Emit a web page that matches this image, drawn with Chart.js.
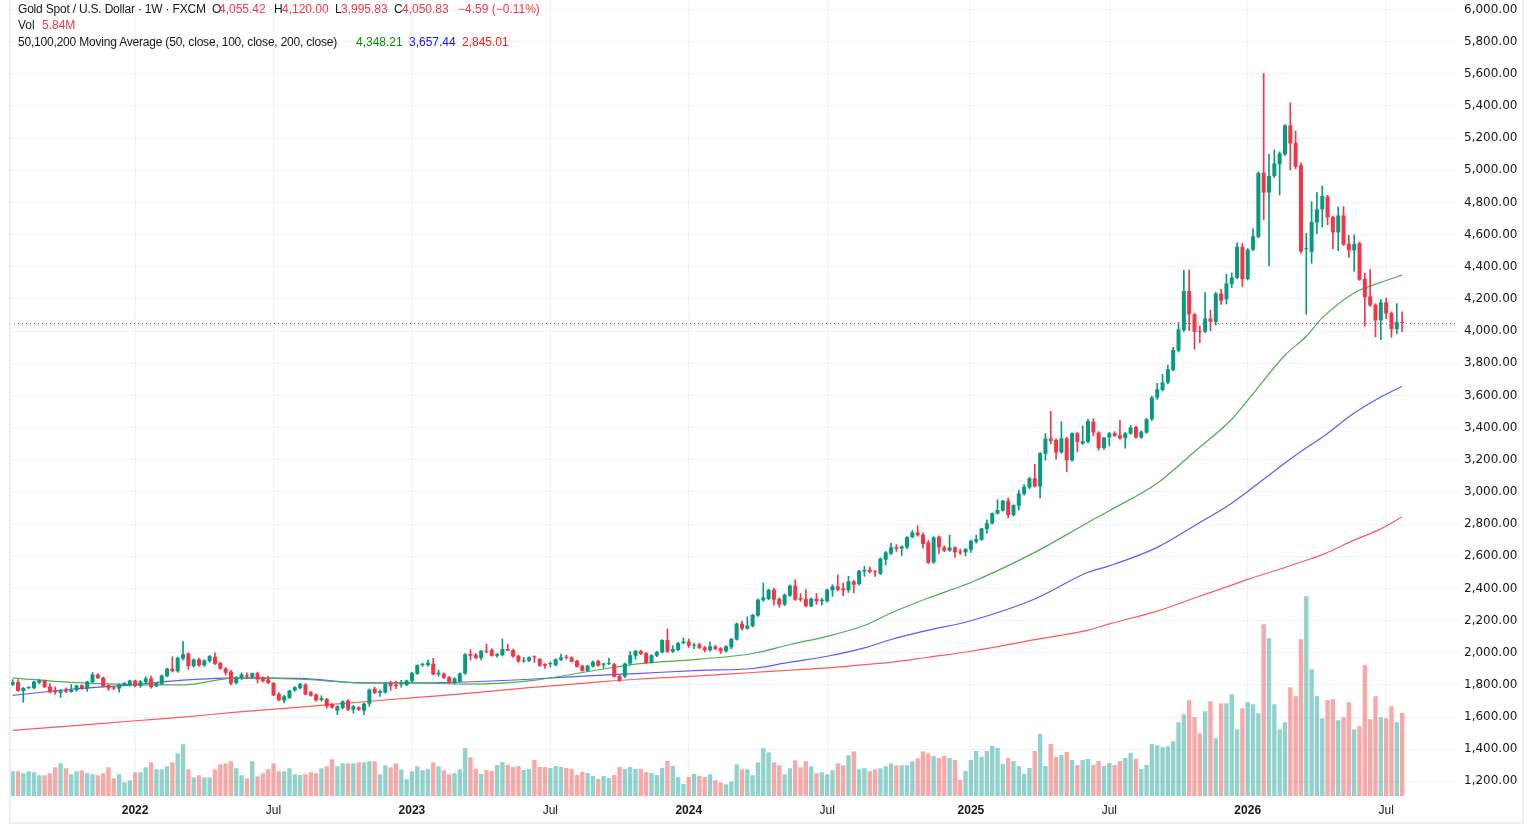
<!DOCTYPE html>
<html>
<head>
<meta charset="utf-8">
<title>Gold Spot / U.S. Dollar 1W</title>
<script src="https://cdn.jsdelivr.net/npm/chart.js@4.4.1/dist/chart.umd.min.js"></script>
<style>
  html, body { margin: 0; padding: 0; background: #fff; }
  #wrap { position: relative; width: 1534px; height: 834px; overflow: hidden; }
  #frame { position: absolute; left: 9px; top: -4px; width: 1515px; height: 828px; box-sizing: border-box;
           border: 2px solid #eceef2; border-top: none; pointer-events: none; }
  .lg { position: absolute; font: 12px "Liberation Sans", Arial, sans-serif; color: #131722; white-space: nowrap; line-height: 16px; }
  .tight { letter-spacing: -0.2px; }
  .dn { color: #f23645; }
</style>
</head>
<body>
<div id="wrap">
  <canvas id="chart" width="1534" height="834"></canvas>
  <div id="frame"></div>
  <div id="legend"></div>
</div>
<script>
// first weekly bar (Monday) and empty weeks kept on the right
const startWeek = Date.UTC(2021, 6, 26);
const futureWeeks = 10;

// weekly candles
const opens = [
  1800,1817,1762,1781,1779,1813,1829,1790,1765,1750,
  1770,1756,1767,1798,1775,1817,1865,1844,1798,1785,
  1777,1802,1796,1827,1792,1817,1840,1792,1806,1854,
  1900,1885,1963,1994,1917,1958,1921,1948,1975,1937,
  1902,1883,1812,1846,1860,1846,1873,1846,1835,1812,
  1744,1702,1719,1765,1779,1802,1754,1740,1706,1712,
  1681,1640,1656,1702,1646,1660,1640,1683,1775,1750,
  1752,1812,1802,1802,1798,1823,1869,1923,1923,1931,
  1865,1869,1848,1812,1822,1871,1992,1988,1967,2012,
  2017,1981,1985,2023,2017,1981,1946,1950,1977,1960,
  1929,1929,1923,1956,1975,1971,1950,1919,1887,1915,
  1950,1925,1929,1929,1856,1852,1933,1981,2010,1998,
  1940,1981,2002,2079,2006,2017,2060,2069,2044,2051,
  2034,2015,2040,2028,2009,2034,2082,2181,2150,2164,
  2231,2326,2334,2392,2336,2299,2355,2417,2340,2334,
  2289,2336,2320,2320,2388,2413,2400,2388,2444,2427,
  2506,2516,2506,2491,2579,2616,2655,2648,2655,2719,
  2748,2734,2686,2562,2721,2655,2634,2655,2630,2624,
  2640,2690,2702,2769,2804,2866,2883,2945,2856,2914,
  2986,3027,3085,3034,3237,3332,3323,3245,3332,3197,
  3365,3300,3311,3437,3369,3272,3338,3365,3352,3334,
  3363,3404,3338,3369,3452,3586,3634,3679,3758,3878,
  4006,4249,4104,4000,3996,4079,4058,4234,4197,4292,
  4331,4524,4323,4507,4586,4985,4861,4964,5037,5099,
  5279,5171,5031,4509,4493,4675,4757,4837,4709,4614,
  4719,4543,4502,4547,4326,4216,4164,4067,4179,4113,4013,4055.42
];
const highs = [
  1833,1833,1784,1790,1824,1834,1831,1808,1787,1771,
  1781,1802,1798,1800,1823,1877,1868,1848,1802,1790,
  1806,1815,1830,1830,1827,1850,1855,1815,1862,1904,
  1975,1972,2069,2000,1962,1966,1956,1983,2000,1942,
  1908,1890,1852,1875,1875,1873,1879,1850,1854,1815,
  1752,1735,1768,1790,1810,1808,1760,1745,1733,1716,
  1686,1670,1702,1708,1672,1665,1688,1775,1786,1767,
  1812,1823,1823,1829,1830,1878,1925,1935,1954,1965,
  1892,1875,1852,1845,1875,1995,2019,1995,2015,2054,
  2025,1995,2085,2054,2022,1985,1971,1975,1981,1965,
  1933,1944,1962,1992,1985,1975,1954,1923,1923,1950,
  1955,1935,1965,1935,1860,1935,2008,2015,2015,2002,
  1988,2010,2082,2148,2044,2065,2092,2085,2060,2060,
  2040,2067,2045,2032,2044,2090,2185,2195,2222,2240,
  2335,2434,2395,2400,2340,2365,2420,2454,2368,2392,
  2340,2368,2340,2395,2423,2485,2433,2475,2450,2512,
  2537,2533,2512,2590,2630,2682,2672,2665,2722,2760,
  2790,2745,2700,2722,2725,2665,2731,2660,2645,2648,
  2700,2731,2775,2827,2870,2951,2947,2961,2920,3011,
  3046,3090,3172,3245,3363,3501,3330,3437,3340,3368,
  3370,3410,3452,3456,3375,3340,3370,3375,3445,3370,
  3414,3410,3380,3458,3595,3675,3731,3789,3899,4054,
  4379,4379,4110,4031,4240,4131,4240,4259,4354,4362,
  4549,4545,4514,4638,4990,5602,5099,5126,5115,5285,
  5420,5244,5047,4608,4805,4861,4902,4845,4715,4771,
  4775,4595,4599,4554,4361,4382,4170,4196,4206,4120,4171,4120.00
];
const lows = [
  1796,1760,1692,1776,1775,1808,1784,1750,1742,1723,
  1752,1754,1760,1772,1760,1815,1838,1788,1765,1770,
  1754,1798,1792,1788,1785,1810,1780,1788,1802,1850,
  1880,1878,1955,1896,1910,1915,1915,1940,1925,1896,
  1860,1800,1805,1833,1838,1840,1812,1818,1808,1733,
  1700,1688,1715,1760,1775,1738,1729,1698,1698,1656,
  1654,1615,1650,1640,1625,1640,1615,1667,1745,1729,
  1748,1765,1777,1785,1795,1818,1865,1915,1917,1862,
  1854,1840,1808,1806,1815,1865,1954,1962,1955,1998,
  1978,1972,1980,2015,1970,1940,1940,1945,1940,1915,
  1902,1910,1918,1950,1960,1942,1910,1885,1882,1910,
  1915,1904,1925,1848,1821,1845,1925,1960,1988,1933,
  1935,1975,1998,2002,2000,2012,2055,2033,2025,2025,
  2005,2010,2018,1995,2003,2025,2078,2140,2145,2160,
  2225,2320,2330,2295,2283,2292,2350,2325,2320,2285,
  2285,2300,2295,2315,2350,2385,2355,2375,2372,2420,
  2475,2495,2475,2485,2547,2610,2630,2605,2645,2715,
  2725,2650,2555,2555,2617,2628,2630,2593,2611,2603,
  2624,2682,2698,2742,2800,2862,2880,2839,2850,2887,
  2980,3020,3030,2963,3197,3300,3203,3240,3125,3190,
  3249,3295,3305,3348,3259,3265,3286,3345,3328,3272,
  3358,3334,3332,3365,3445,3575,3627,3672,3752,3870,
  3996,4002,3888,3928,3990,4002,4037,4166,4168,4271,
  4325,4275,4318,4500,4580,4691,4406,4955,4847,5092,
  5002,5010,4484,4105,4422,4606,4648,4661,4512,4500,
  4533,4458,4372,4316,4030,4154,3964,3947,4078,3962,3984,3995.83
];
const closes = [
  1817,1762,1781,1786,1821,1829,1785,1754,1754,1765,
  1758,1771,1796,1775,1821,1865,1842,1792,1777,1777,
  1802,1812,1827,1792,1823,1840,1787,1812,1858,1900,
  1885,1969,1990,1917,1958,1921,1952,1979,1931,1900,
  1875,1808,1844,1865,1852,1873,1833,1823,1812,1735,
  1704,1729,1765,1785,1806,1740,1733,1704,1717,1667,
  1660,1667,1698,1646,1667,1646,1683,1771,1750,1760,
  1808,1792,1792,1812,1827,1875,1923,1931,1938,1865,
  1875,1844,1812,1840,1871,1990,1981,1967,2012,2006,
  1981,1992,2023,2013,1977,1946,1952,1971,1971,1919,
  1919,1935,1960,1971,1969,1944,1912,1887,1919,1944,
  1919,1933,1933,1850,1829,1933,1985,2012,1992,1935,
  1985,2006,2079,2006,2023,2060,2069,2044,2050,2030,
  2015,2040,2024,2009,2040,2086,2181,2150,2169,2235,
  2330,2344,2392,2330,2299,2361,2417,2330,2330,2289,
  2336,2320,2330,2392,2413,2392,2388,2444,2423,2510,
  2516,2502,2500,2585,2624,2655,2645,2661,2719,2748,
  2730,2676,2558,2717,2655,2634,2655,2624,2622,2645,
  2696,2707,2773,2806,2868,2887,2945,2856,2918,2990,
  3032,3085,3034,3241,3332,3317,3245,3332,3197,3365,
  3311,3315,3441,3369,3272,3338,3365,3348,3332,3365,
  3400,3338,3375,3452,3588,3638,3681,3762,3882,4011,
  4249,4104,3996,3994,4079,4058,4234,4189,4296,4333,
  4524,4323,4507,4590,4983,4861,4964,5043,5105,5279,
  5167,5022,4495,4513,4679,4757,4840,4707,4614,4719,
  4537,4502,4543,4320,4210,4160,4067,4179,4109,4013,4055.42,4050.83
];
// weekly volume, millions
const volumes = [
  1.74,1.74,1.60,1.74,1.67,1.46,1.46,1.60,2.02,2.30,
  1.95,1.53,1.74,1.81,1.60,1.53,1.46,1.60,2.02,1.24,
  1.53,0.96,1.10,1.67,1.67,2.02,2.37,1.88,1.88,2.09,
  2.37,3.00,3.64,1.88,1.31,1.46,1.31,1.31,1.88,2.23,
  2.30,2.44,1.95,1.46,1.24,2.44,1.38,1.60,1.88,2.30,
  1.74,1.74,1.95,1.53,1.48,1.53,1.67,1.60,1.95,2.09,
  2.58,2.09,2.30,2.30,2.30,2.37,2.37,2.44,2.44,1.53,
  2.16,2.02,2.30,1.88,1.17,1.74,2.09,1.81,1.88,2.37,
  2.09,1.81,1.53,1.60,1.88,3.36,2.72,1.90,1.55,1.83,
  1.76,2.18,2.39,2.18,2.04,2.11,1.83,1.90,2.53,2.04,
  2.04,1.97,2.11,2.04,1.97,1.90,1.48,1.69,1.62,1.41,
  1.20,1.41,1.27,1.48,2.04,1.90,2.04,1.90,1.90,1.69,
  1.62,1.48,1.97,2.46,2.11,1.34,0.84,1.34,1.55,1.43,
  1.34,1.53,1.10,0.96,0.82,1.03,2.23,1.88,1.88,1.46,
  2.37,3.36,3.07,2.37,2.16,1.53,1.95,2.51,2.02,2.44,
  2.09,1.60,1.67,1.53,1.81,2.30,2.16,2.86,3.14,1.88,
  1.95,1.74,1.88,1.95,2.09,2.30,2.16,2.16,2.16,2.44,
  2.65,3.14,3.00,2.82,2.68,2.82,2.68,2.53,1.13,1.76,
  2.53,3.17,2.75,3.17,3.52,3.38,2.25,2.68,2.46,2.11,
  1.55,1.97,3.17,4.37,2.11,3.66,2.75,2.89,3.10,2.53,
  2.18,2.53,2.61,2.18,2.46,2.11,2.32,2.18,2.46,2.68,
  3.03,2.61,1.90,2.18,3.66,3.57,3.43,3.50,3.85,5.19,
  5.75,6.74,5.54,4.41,5.96,6.67,4.06,6.52,6.52,7.16,
  4.69,6.17,6.60,6.45,5.82,12.09,11.10,6.45,4.69,5.19,
  7.65,7.02,11.03,14.06,8.92,7.02,5.47,6.74,6.81,5.33,
  5.54,6.60,4.69,4.91,9.20,5.40,7.02,5.54,5.47,6.31,5.19,5.84
];

// moving averages, read at these bar numbers (1 = first bar)
const maWeeks = [1,12,24,33,43,55,67,77,86,98,110,118,130,140,147,154,161,166,173,181,193,203,207,216,223,230,233,240,244,247,253,258,262];
const ma50 = [1844,1815,1802,1800,1844,1835,1812,1812,1805,1825,1888,1929,1960,1995,2051,2102,2169,2247,2340,2437,2624,2810,2883,3054,3250,3452,3570,3850,3968,4082,4237,4303,4348.21];
const ma100 = [1735,1773,1802,1829,1844,1840,1812,1813,1818,1835,1858,1870,1890,1902,1941,1978,2030,2082,2140,2199,2334,2500,2540,2655,2790,2930,3003,3180,3275,3340,3490,3590,3657.44];
const ma200 = [1517,1545,1577,1600,1630,1662,1695,1722,1746,1783,1815,1835,1856,1877,1891,1906,1926,1940,1972,2009,2081,2140,2179,2259,2340,2420,2456,2530,2575,2610,2700,2770,2845.01];

// right axis tick values
const yTicks = [1200,1400,1600,1800,2000,2200,2400,2600,2800,3000,3200,3400,3600,3800,4000,4200,4400,4600,4800,5000,5200,5400,5600,5800,6000];

const UP = '#089981';
const DOWN = '#f23645';
const VOL_UP = 'rgba(38,166,154,0.5)';
const VOL_DOWN = 'rgba(239,83,80,0.5)';
const FONT = '"Liberation Sans", Arial, sans-serif';

const weeks = [];
for (let i = 0; i < closes.length + futureWeeks; i++) {
  weeks.push(new Date(startWeek + i * 7 * 864e5).toISOString().slice(0, 10));
}
const isUp = closes.map((c, i) => c >= opens[i]);

// x labels: year at first bar of January, "Jul" at first bar of July
function tickLabel(i) {
  if (i === 0) return '';
  const m = +weeks[i].slice(5, 7);
  const pm = +weeks[i - 1].slice(5, 7);
  if (m === pm) return '';
  if (m === 1) return weeks[i].slice(0, 4);
  if (m === 7) return 'Jul';
  return '';
}

function maSeries(values) {
  const out = new Array(weeks.length).fill(null);
  maWeeks.forEach((w, k) => { out[w - 1] = values[k]; });
  return out;
}

const fmt = (v) => v.toLocaleString('en-US', { minimumFractionDigits: 2, maximumFractionDigits: 2 });

// no extra room around the axes, the plot runs edge to edge
function noPadding(s) {
  s.paddingTop = 0;
  s.paddingBottom = 0;
  s.paddingLeft = 0;
  s.paddingRight = 0;
}

// dotted last price line
const lastPriceLine = {
  id: 'lastPriceLine',
  beforeDatasetsDraw(chart) {
    const { ctx, chartArea, scales } = chart;
    const y = Math.round(scales.y.getPixelForValue(closes[closes.length - 1])) + 0.5;
    ctx.save();
    ctx.strokeStyle = DOWN;
    ctx.lineWidth = 1;
    ctx.setLineDash([1, 3]);
    ctx.beginPath();
    ctx.moveTo(chartArea.left, y);
    ctx.lineTo(chartArea.right, y);
    ctx.stroke();
    ctx.restore();
  }
};

const ctx = document.getElementById('chart').getContext('2d');
const chart = new Chart(ctx, {
  type: 'bar',
  data: {
    labels: weeks,
    datasets: [
      {
        type: 'line', label: 'MA 50', data: maSeries(ma50), yAxisID: 'y',
        borderColor: '#4caf50', borderWidth: 1.2, pointRadius: 0, spanGaps: true,
        cubicInterpolationMode: 'monotone', order: 5,
      },
      {
        type: 'line', label: 'MA 100', data: maSeries(ma100), yAxisID: 'y',
        borderColor: '#5b5bff', borderWidth: 1.2, pointRadius: 0, spanGaps: true,
        cubicInterpolationMode: 'monotone', order: 5,
      },
      {
        type: 'line', label: 'MA 200', data: maSeries(ma200), yAxisID: 'y',
        borderColor: '#ff5a5a', borderWidth: 1.2, pointRadius: 0, spanGaps: true,
        cubicInterpolationMode: 'monotone', order: 5,
      },
      {
        label: 'Wick', data: lows.map((l, i) => [l, highs[i]]), yAxisID: 'y',
        backgroundColor: isUp.map(u => u ? UP : DOWN),
        barThickness: 1, grouped: false, order: 2,
      },
      {
        label: 'Body', data: opens.map((o, i) => [o, closes[i]]), yAxisID: 'y',
        backgroundColor: isUp.map(u => u ? UP : DOWN),
        barPercentage: 0.75, categoryPercentage: 1, grouped: false, minBarLength: 1, order: 1,
      },
      {
        label: 'Volume', data: volumes, yAxisID: 'v',
        backgroundColor: isUp.map(u => u ? VOL_UP : VOL_DOWN),
        barPercentage: 0.82, categoryPercentage: 1, grouped: false, order: 10,
      },
    ],
  },
  options: {
    responsive: false,
    animation: false,
    devicePixelRatio: 1,
    layout: { autoPadding: false, padding: { left: 10, right: 0, top: 0, bottom: 0 } },
    plugins: { legend: { display: false }, tooltip: { enabled: false } },
    scales: {
      x: {
        offset: true,
        grid: {
          offset: false, drawTicks: false,
          color: (c) => (c.tick && c.tick.label ? '#f0f3fa' : 'rgba(0,0,0,0)'),
        },
        border: { display: false },
        ticks: {
          autoSkip: false, maxRotation: 0, padding: 7, color: '#131722',
          font: (c) => ({ family: FONT, size: 12, weight: c.tick && /^\d{4}$/.test(c.tick.label) ? 'bold' : 'normal' }),
          callback: (v, i) => tickLabel(i),
        },
        afterFit: (s) => { s.height = 38; noPadding(s); },
      },
      y: {
        position: 'right', min: 1109, max: 6059,
        afterBuildTicks: (s) => { s.ticks = yTicks.map(v => ({ value: v })); },
        grid: { color: '#f0f3fa', drawTicks: false },
        border: { display: false },
        ticks: { padding: 6, color: '#131722', font: { family: '"DejaVu Sans", sans-serif', size: 12 }, callback: (v) => fmt(v) },
        afterFit: (s) => { s.width = 76; noPadding(s); },
      },
      v: { display: false, min: 0, max: 56, afterFit: noPadding },
    },
  },
  plugins: [lastPriceLine],
});

// legend text at top left
const n = closes.length - 1;
const change = closes[n] - closes[n - 1];
const pct = change / closes[n - 1] * 100;
const minus = (v) => (v < 0 ? '\u2212' + fmt(-v) : fmt(v));
const items = [
  [18, 1, 'Gold Spot / U.S. Dollar \u00b7 1W \u00b7 FXCM', 'tight'],
  [212, 1, 'O', ''], [219, 1, fmt(opens[n]), 'dn'],
  [274, 1, 'H', ''], [282, 1, fmt(highs[n]), 'dn'],
  [335, 1, 'L', ''], [341, 1, fmt(lows[n]), 'dn'],
  [394, 1, 'C', ''], [402, 1, fmt(closes[n]), 'dn'],
  [458, 1, minus(change) + ' (' + (pct < 0 ? '\u2212' : '') + Math.abs(pct).toFixed(2) + '%)', 'dn'],
  [18, 17, 'Vol', ''], [42, 17, volumes[n].toFixed(2) + 'M', 'dn'],
  [18, 34, '50,100,200 Moving Average (50, close, 100, close, 200, close)', 'tight'],
  [356, 34, fmt(ma50[ma50.length - 1]), ''], [409, 34, fmt(ma100[ma100.length - 1]), ''], [462, 34, fmt(ma200[ma200.length - 1]), ''],
];
const maColors = { 356: '#008f00', 409: '#1010ff', 462: '#ff1a1a' };
const legend = document.getElementById('legend');
items.forEach(([x, y, text, cls]) => {
  const el = document.createElement('div');
  el.className = 'lg' + (cls ? ' ' + cls : '');
  el.style.left = x + 'px';
  el.style.top = y + 'px';
  if (y === 34 && maColors[x]) el.style.color = maColors[x];
  el.textContent = text;
  legend.appendChild(el);
});
</script>
</body>
</html>
